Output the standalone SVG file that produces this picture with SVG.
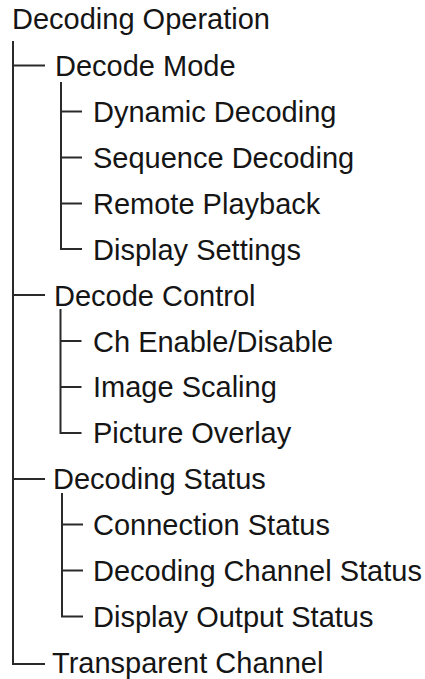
<svg xmlns="http://www.w3.org/2000/svg" width="425" height="679" viewBox="0 0 425 679">
  <style>
    text { font-family: "Liberation Sans", Arial, sans-serif; font-size: 29px; fill: #151515; }
    .tree { fill: none; stroke: #2a2a2a; stroke-width: 2; }
  </style>
  <rect width="425" height="679" fill="#ffffff"/>

  <!-- tree connectors -->
  <g id="connectors" class="tree">
    <!-- root trunk -->
    <path d="M13 41 V664 H45"/>
    <path d="M13 65.5 H45"/>
    <path d="M13 295 H45"/>
    <path d="M13 479 H45"/>
    <!-- Decode Mode branch -->
    <path d="M61 82 V249 H82"/>
    <path d="M61 111.5 H82"/>
    <path d="M61 157.5 H82"/>
    <path d="M61 203.5 H82"/>
    <!-- Decode Control branch -->
    <path d="M60.5 309 V433 H81.5"/>
    <path d="M60.5 341 H81.5"/>
    <path d="M60.5 387 H81.5"/>
    <!-- Decoding Status branch -->
    <path d="M62 493 V616.5 H83"/>
    <path d="M62 524.5 H83"/>
    <path d="M62 570.5 H83"/>
  </g>

  <g id="root"><text x="12" y="29">Decoding Operation</text></g>

  <g id="decode-mode"><text x="55" y="76">Decode Mode</text></g>
  <g id="dynamic-decoding"><text x="93" y="122">Dynamic Decoding</text></g>
  <g id="sequence-decoding"><text x="93" y="168">Sequence Decoding</text></g>
  <g id="remote-playback"><text x="93" y="214">Remote Playback</text></g>
  <g id="display-settings"><text x="93" y="259.5">Display Settings</text></g>

  <g id="decode-control"><text x="54" y="305.5">Decode Control</text></g>
  <g id="ch-enable"><text x="93" y="351.5">Ch Enable/Disable</text></g>
  <g id="image-scaling"><text x="93" y="397">Image Scaling</text></g>
  <g id="picture-overlay"><text x="93" y="443">Picture Overlay</text></g>

  <g id="decoding-status"><text x="53" y="489">Decoding Status</text></g>
  <g id="connection-status"><text x="93" y="535">Connection Status</text></g>
  <g id="decoding-channel-status"><text x="93" y="581">Decoding Channel Status</text></g>
  <g id="display-output-status"><text x="93" y="627">Display Output Status</text></g>

  <g id="transparent-channel"><text x="52" y="673">Transparent Channel</text></g>
</svg>
